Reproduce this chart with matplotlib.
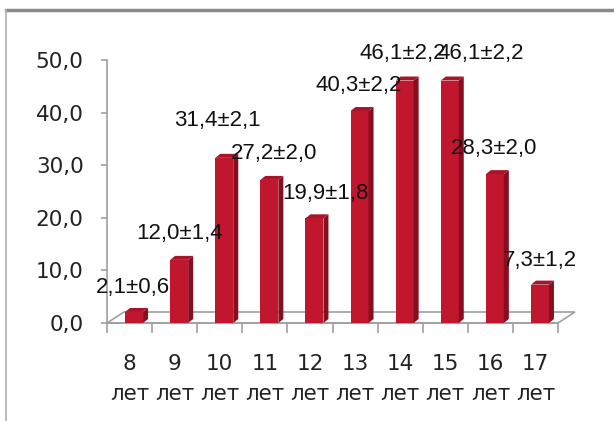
import matplotlib
matplotlib.use("Agg")
import matplotlib.pyplot as plt
from matplotlib.patches import Polygon
from matplotlib.lines import Line2D
from matplotlib.ticker import FixedLocator, FuncFormatter

# data
ages = ["8", "9", "10", "11", "12", "13", "14", "15", "16", "17"]
values = [2.1, 12.0, 31.4, 27.2, 19.9, 40.3, 46.1, 46.1, 28.3, 7.3]
errors = [0.6, 1.4, 2.1, 2.0, 1.8, 2.2, 2.2, 2.2, 2.0, 1.2]

# label nudges in pixels (dx, dy above bar top)
lab_dx = [3.5, 4.5, -2.5, 9.5, 15.5, 3.5, 2.5, 36, 3.5, 4.5]
lab_dy = [24.5, 26.5, 37.6, 26.7, 25, 26, 27.5, 27.5, 26, 24]

W, H = 614, 421
fig = plt.figure(figsize=(W / 100, H / 100), dpi=100)
fig.patch.set_facecolor("white")

# plot area in pixels: x 107..558, y 323 (zero) .. 60 (fifty)
ax = fig.add_axes([107 / W, (H - 323) / H, 451 / W, 263 / H])
ax.set_xlim(-0.5, 9.5)
ax.set_ylim(0, 50)
px = 10 / 451       # one pixel in x units
py = 50 / 263       # one pixel in y units

front = "#c0172f"
side = "#860e1e"
top = "#a8142a"
grey = "#a0a0a0"

# floor of the 3d plot
fdx, fdy = 17 * px, 11 * py
floor = Polygon([(-0.5, 0), (-0.5 + fdx, fdy), (9.5 + fdx, fdy), (9.5, 0)],
                closed=True, fill=False, edgecolor=grey, lw=1.2,
                clip_on=False, zorder=1)
ax.add_patch(floor)

# bars with side and top faces
bw = 18 * px
off = 4.5 * px
ddx, ddy = 5 * px, 4 * py
xs = list(range(len(values)))
ax.bar([x + off for x in xs], values, width=bw, color=front, zorder=3)
for x, v in zip(xs, values):
    x0 = x + off - bw / 2
    x1 = x + off + bw / 2
    ax.add_patch(Polygon([(x1, 0), (x1 + ddx, ddy), (x1 + ddx, v + ddy), (x1, v)],
                         closed=True, facecolor=side, edgecolor="none",
                         clip_on=False, zorder=3))
    ax.add_patch(Polygon([(x0, v), (x0 + ddx, v + ddy), (x1 + ddx, v + ddy), (x1, v)],
                         closed=True, facecolor=top, edgecolor="none",
                         clip_on=False, zorder=3))

# data labels
for x, v, e, dx, dy in zip(xs, values, errors, lab_dx, lab_dy):
    txt = f"{v:.1f}±{e:.1f}".replace(".", ",")
    ax.annotate(txt, xy=(x, v), xytext=(dx, dy), textcoords="offset pixels",
                ha="center", va="center", fontsize=16, color="#111111",
                family=["Liberation Sans", "DejaVu Sans"], zorder=5,
                annotation_clip=False)

# axes styling
for s in ["top", "right"]:
    ax.spines[s].set_visible(False)
ax.spines["left"].set_color(grey)
ax.spines["bottom"].set_color(grey)
ax.spines["left"].set_linewidth(1.2)
ax.spines["bottom"].set_linewidth(1.2)

ax.set_yticks(range(0, 51, 10))
ax.yaxis.set_major_formatter(FuncFormatter(lambda v, p: f"{v:.1f}".replace(".", ",")))
ax.tick_params(axis="y", direction="out", length=4.3, width=1.2, color=grey,
               labelsize=15.5, labelcolor="#222222", pad=12.5)

ax.set_xticks(xs)
ax.set_xticklabels([a + "\nлет" for a in ages])
ax.xaxis.set_minor_locator(FixedLocator([x - 0.5 for x in range(len(values) + 1)]))
ax.tick_params(axis="x", which="major", length=0, labelsize=15.5,
               labelcolor="#222222", pad=22.5)
ax.tick_params(axis="x", which="minor", direction="out", length=7.2,
               width=1.2, color=grey)
for lab in ax.get_xticklabels():
    lab.set_linespacing(1.6)
for lab in ax.get_xticklabels() + ax.get_yticklabels():
    lab.set_family(["DejaVu Sans"])

# outer frame of the picture
fig.add_artist(Line2D([6 / W, 1], [1 - 9.5 / H, 1 - 9.5 / H], color="#8a8a8a",
                      lw=2.5, transform=fig.transFigure))
fig.add_artist(Line2D([6 / W, 6 / W], [0, 1 - 9.5 / H], color="#b0b0b0",
                      lw=1.2, transform=fig.transFigure))

fig.savefig("out.png", dpi=100)
